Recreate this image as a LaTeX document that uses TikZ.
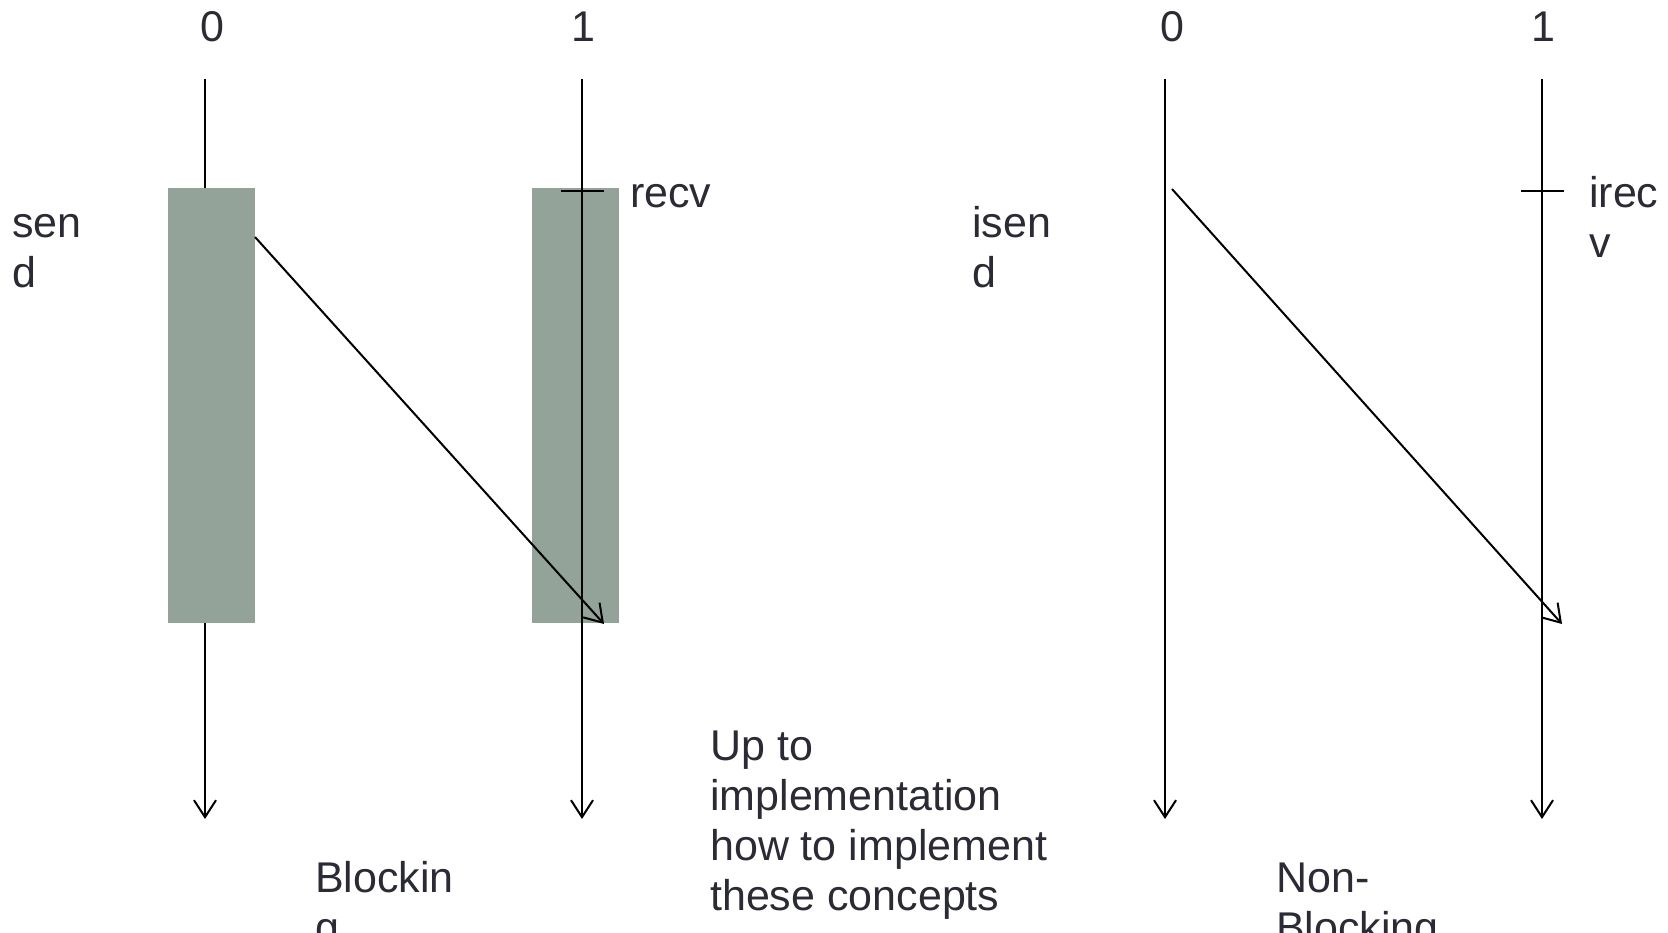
\documentclass[tikz,border=0pt]{standalone}
\usepackage{fontspec}
\setmainfont{Liberation Sans}
\usetikzlibrary{arrows.meta}
\definecolor{blockfill}{HTML}{93A399}
\definecolor{txt}{HTML}{2B2B36}
\tikzset{
  lbl/.style={font=\fontsize{43}{50}\selectfont, text=txt, inner sep=0pt, align=left, anchor=base west},
  numlbl/.style={font=\fontsize{43}{50}\selectfont, text=txt, inner sep=0pt, anchor=base},
  life/.style={draw=black, line width=2pt, -{Straight Barb[length=17pt,width=22pt,line width=2pt]}},
  msg/.style={draw=black, line width=2pt, -{Straight Barb[length=17pt,width=22pt,line width=2pt]}},
  tick/.style={draw=black, line width=1.2pt},
  blockbox/.style={fill=blockfill, draw=none, minimum width=87pt, minimum height=435pt, inner sep=0pt, anchor=north west}
}
\begin{document}
\begin{tikzpicture}[x=1pt,y=-1pt]
\useasboundingbox (0,0) rectangle (1668,932);
% lifeline coordinates
\coordinate (l0t) at (205,79);  \coordinate (l0b) at (205,819);
\coordinate (l1t) at (582,79);  \coordinate (l1b) at (582,819);
\coordinate (r0t) at (1165,79); \coordinate (r0b) at (1165,819);
\coordinate (r1t) at (1542,79); \coordinate (r1b) at (1542,819);
\draw[life] (l0t) -- (l0b);
% blocks
\node[blockbox] (b0) at (168,188) {};
\node[blockbox] (b1) at (532,188) {};
\draw[life] (l1t) -- (l1b);
\draw[life] (r0t) -- (r0b);
\draw[life] (r1t) -- (r1b);
% messages
\coordinate (ms) at (255,237); \coordinate (me) at (604,624);
\draw[msg] (ms) -- (me);
\coordinate (ns) at (1172,189); \coordinate (ne) at (1562,624);
\draw[msg] (ns) -- (ne);
% ticks
\coordinate (t1a) at (561,191); \coordinate (t1b) at (604,191);
\draw[tick] (t1a) -- (t1b);
\coordinate (t2a) at (1521,191); \coordinate (t2b) at (1564,191);
\draw[tick] (t2a) -- (t2b);
% numbers
\node[numlbl] (n0) at (212,41) {0};
\node[numlbl] (n1) at (583,41) {1};
\node[numlbl] (n2) at (1172,41) {0};
\node[numlbl] (n3) at (1543,41) {1};
% labels (base anchor = baseline of last line)
\node[lbl] (send) at (12,287) {sen\\d};
\node[lbl] (recv) at (630,207) {recv};
\node[lbl] (isend) at (972,287) {isen\\d};
\node[lbl] (irecv) at (1589,257) {irec\\v};
\node[lbl] (blk) at (315,942) {Blockin\\g};
\node[lbl] (nblk) at (1276,942) {Non-\\Blocking};
\node[lbl] (impl) at (710,910) {Up to\\implementation\\how to implement\\these concepts};
\end{tikzpicture}
\end{document}
